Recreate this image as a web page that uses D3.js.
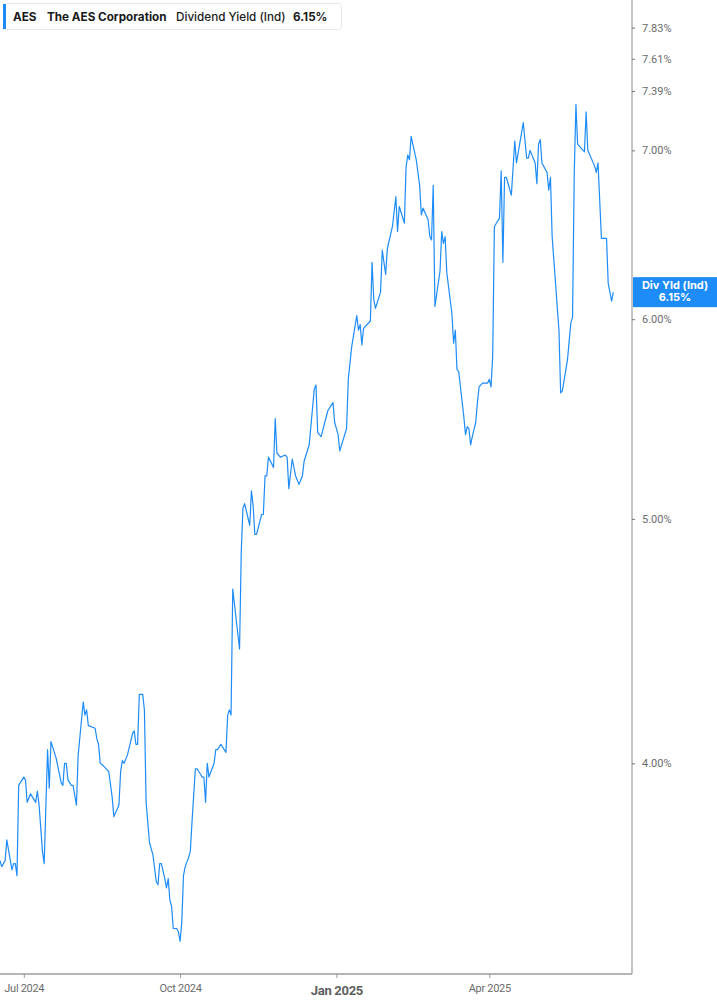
<!DOCTYPE html>
<html lang="en">
<head>
<meta charset="utf-8">
<title>AES Dividend Yield</title>
<script src="https://d3js.org/d3.v7.min.js"></script>
<style>
    *{
        margin: 0px;
        padding: 0px;
    }
    body{
        background-color: #ffffff;
        width: 717px;
        height: 1005px;
        overflow: hidden;
    }
</style>
</head>
<body>
<div class="chart"></div>
<script>
// dividend yield (%)
var dates = [
    "2024-06-17","2024-06-18","2024-06-20","2024-06-21","2024-06-24","2024-06-25","2024-06-26","2024-06-27","2024-06-28",
    "2024-07-01","2024-07-02","2024-07-03","2024-07-05","2024-07-08","2024-07-09","2024-07-10","2024-07-12","2024-07-13",
    "2024-07-15","2024-07-16","2024-07-17","2024-07-19","2024-07-20","2024-07-22","2024-07-23","2024-07-24","2024-07-25",
    "2024-07-26","2024-07-27","2024-07-29","2024-07-30","2024-08-01","2024-08-02","2024-08-05","2024-08-06","2024-08-07",
    "2024-08-08","2024-08-12","2024-08-13","2024-08-14","2024-08-15","2024-08-17","2024-08-20","2024-08-22","2024-08-23",
    "2024-08-26","2024-08-27","2024-08-28","2024-08-29","2024-08-31","2024-09-03","2024-09-04","2024-09-05","2024-09-06",
    "2024-09-07","2024-09-09","2024-09-10","2024-09-11","2024-09-13","2024-09-15","2024-09-17","2024-09-18","2024-09-19",
    "2024-09-20","2024-09-22","2024-09-23","2024-09-24","2024-09-25","2024-09-26","2024-09-27","2024-09-29","2024-09-30",
    "2024-10-01","2024-10-02","2024-10-03","2024-10-04","2024-10-06","2024-10-07","2024-10-08","2024-10-10","2024-10-11",
    "2024-10-13","2024-10-14","2024-10-15","2024-10-16","2024-10-17","2024-10-18","2024-10-21","2024-10-22","2024-10-23",
    "2024-10-25","2024-10-28","2024-10-29","2024-10-30","2024-10-31","2024-11-01","2024-11-05","2024-11-06","2024-11-07",
    "2024-11-08","2024-11-11","2024-11-12","2024-11-13","2024-11-14","2024-11-15","2024-11-18","2024-11-19","2024-11-20",
    "2024-11-21","2024-11-22","2024-11-25","2024-11-26","2024-11-27","2024-11-29","2024-12-02","2024-12-03","2024-12-04",
    "2024-12-06","2024-12-08","2024-12-10","2024-12-12","2024-12-13","2024-12-16","2024-12-19","2024-12-20","2024-12-21",
    "2024-12-23","2024-12-27","2024-12-30","2024-12-31","2025-01-02","2025-01-03","2025-01-07","2025-01-08","2025-01-10",
    "2025-01-13","2025-01-14","2025-01-15","2025-01-16","2025-01-17","2025-01-21","2025-01-22","2025-01-23","2025-01-24",
    "2025-01-27","2025-01-28","2025-01-30","2025-01-31","2025-02-03","2025-02-05","2025-02-06","2025-02-07","2025-02-10",
    "2025-02-11","2025-02-12","2025-02-13","2025-02-14","2025-02-17","2025-02-19","2025-02-20","2025-02-21","2025-02-24",
    "2025-02-25","2025-02-26","2025-02-27","2025-02-28","2025-03-03","2025-03-04","2025-03-05","2025-03-06","2025-03-07",
    "2025-03-10","2025-03-11","2025-03-12","2025-03-13","2025-03-14","2025-03-17","2025-03-18","2025-03-19","2025-03-20",
    "2025-03-21","2025-03-22","2025-03-24","2025-03-25","2025-03-26","2025-03-28","2025-03-31","2025-04-01","2025-04-02",
    "2025-04-03","2025-04-04","2025-04-07","2025-04-08","2025-04-09","2025-04-10","2025-04-11","2025-04-14","2025-04-16",
    "2025-04-17","2025-04-21","2025-04-23","2025-04-24","2025-04-25","2025-04-28","2025-04-29","2025-04-30","2025-05-01",
    "2025-05-02","2025-05-05","2025-05-06","2025-05-07","2025-05-08","2025-05-12","2025-05-13","2025-05-14","2025-05-17",
    "2025-05-19","2025-05-20","2025-05-21","2025-05-22","2025-05-23","2025-05-27","2025-05-28","2025-05-29","2025-06-02",
    "2025-06-03","2025-06-04","2025-06-06","2025-06-09","2025-06-10","2025-06-12","2025-06-13"
];
var yields = [
    3.66,3.64,3.66,3.73,3.63,3.65,3.65,3.61,3.92,
    3.95,3.94,3.86,3.89,3.86,3.90,3.85,3.69,3.65,
    4.05,3.91,4.08,4.04,4.02,3.96,3.93,3.92,4.00,
    4.00,3.94,3.92,3.92,3.85,4.03,4.23,4.18,4.20,
    4.14,4.13,4.09,4.07,4.00,3.99,3.97,3.88,3.81,
    3.85,3.97,4.01,4.00,4.03,4.11,4.12,4.07,4.07,
    4.26,4.26,4.20,3.86,3.72,3.68,3.59,3.58,3.65,
    3.65,3.60,3.57,3.60,3.53,3.51,3.44,3.44,3.43,
    3.40,3.46,3.61,3.64,3.67,3.69,3.79,3.98,3.98,
    3.96,3.95,3.95,3.86,4.00,3.95,4.00,4.05,4.05,
    4.07,4.04,4.18,4.20,4.18,4.69,4.44,4.85,5.05,
    5.07,4.97,5.13,5.06,4.93,4.93,5.02,5.02,5.20,
    5.20,5.29,5.24,5.48,5.31,5.29,5.30,5.29,5.14,
    5.28,5.20,5.16,5.20,5.27,5.35,5.63,5.65,5.41,
    5.39,5.52,5.56,5.46,5.40,5.32,5.43,5.68,5.85,
    6.02,5.94,5.97,5.86,5.95,5.99,6.32,6.11,6.06,
    6.15,6.39,6.25,6.40,6.53,6.71,6.50,6.65,6.55,
    6.89,6.97,6.94,7.09,6.94,6.78,6.60,6.64,6.57,
    6.47,6.45,6.78,6.07,6.27,6.50,6.43,6.47,6.26,
    6.03,5.87,5.94,5.73,5.72,5.49,5.40,5.44,5.43,
    5.35,5.39,5.46,5.56,5.64,5.66,5.66,5.68,5.64,
    5.80,6.53,6.58,6.87,6.32,6.83,6.83,6.72,7.06,
    6.92,7.18,6.95,6.95,7.00,6.92,6.79,7.04,7.07,
    6.92,6.86,6.75,6.83,6.47,5.94,5.61,5.62,5.78,
    5.98,6.01,6.85,7.30,7.04,6.99,7.25,7.00,6.90,
    6.86,6.92,6.46,6.46,6.20,6.10,6.15
];
var yTicks = [4.00, 5.00, 6.00, 7.00, 7.39, 7.61, 7.83];
var xTickDates = ["2024-07-01", "2024-10-01", "2025-01-01", "2025-04-01"];
var xTickLabels = ["Jul 2024", "Oct 2024", "Jan 2025", "Apr 2025"];
var ticker = "AES";
var company = "The AES Corporation";
var metric = "Dividend Yield (Ind)";
var lastValue = 6.15;

var width = 717;
var height = 1005;
var plotW = 632;
var plotH = 974;
var blue = "#1e8cf8";

var parse = d3.timeParse("%Y-%m-%d");
var points = dates.map(function(d, i){
    return {date: parse(d), value: yields[i]};
});

var svg = d3.select(".chart")
    .append("svg")
    .attr("width", width)
    .attr("height", height)
    .style("font-family", "Inter, Roboto, sans-serif");

var xScale = d3.scaleTime()
    .domain([parse("2024-06-17"), parse("2025-06-24")])
    .range([0, plotW]);

var yScale = d3.scaleLog()
    .domain([3.30, 8.03])
    .range([plotH, 0]);

svg.append("clipPath")
    .attr("id", "plotclip")
    .append("rect")
    .attr("x", 0).attr("y", 0)
    .attr("width", plotW).attr("height", plotH);

/*---------------- axes ----------------*/
var xAxis = d3.axisBottom(xScale)
    .tickValues(xTickDates.map(parse))
    .tickSize(4)
    .tickFormat(function(d, i){ return xTickLabels[i]; });

var gx = svg.append("g")
    .attr("transform", "translate(0," + plotH + ")")
    .call(xAxis);
gx.select(".domain")
    .attr("d", "M0,0H" + plotW)
    .attr("stroke", "#b5b5b5")
    .attr("stroke-width", 2);
gx.selectAll(".tick line").attr("stroke", "#999");
gx.selectAll(".tick text")
    .attr("y", 10)
    .attr("dy", "0.71em")
    .style("font-size", "11px")
    .style("font-family", "Roboto, sans-serif")
    .style("letter-spacing", "-0.3px")
    .attr("fill", "#6b6b6b");
// year start label is bigger and bold
gx.selectAll(".tick text")
    .filter(function(d, i){ return xTickLabels[i].indexOf("Jan") === 0; })
    .attr("y", 12)
    .style("font-size", "13px")
    .style("font-weight", "bold")
    .attr("fill", "#5e5e5e");

var yAxis = d3.axisRight(yScale)
    .tickValues(yTicks)
    .tickSize(3)
    .tickFormat(function(d){ return d.toFixed(2) + "%"; });

var gy = svg.append("g")
    .attr("transform", "translate(" + plotW + ",0)")
    .call(yAxis);
gy.select(".domain")
    .attr("d", "M0,0V" + plotH)
    .attr("stroke", "#9a9a9a")
    .attr("stroke-width", 1.2);
gy.selectAll(".tick line").attr("stroke", "#777");
gy.selectAll(".tick text")
    .attr("x", 10)
    .style("font-size", "11px")
    .style("font-family", "Roboto, sans-serif")
    .attr("fill", "#6b6b6b");

/*---------------- line ----------------*/
var line = d3.line()
    .x(function(d){ return xScale(d.date); })
    .y(function(d){ return yScale(d.value); });

svg.append("path")
    .datum(points)
    .attr("clip-path", "url(#plotclip)")
    .attr("fill", "none")
    .attr("stroke", blue)
    .attr("stroke-width", 1.2)
    .attr("stroke-linejoin", "round")
    .attr("d", line);

/*---------------- last value flag ----------------*/
var flag = svg.append("g")
    .attr("transform", "translate(" + (plotW + 1) + "," + yScale(lastValue) + ")");
flag.append("rect")
    .attr("x", 0).attr("y", -15)
    .attr("width", width - plotW - 1).attr("height", 30)
    .attr("fill", blue);
flag.append("text")
    .attr("x", (width - plotW - 1) / 2).attr("y", -3)
    .attr("text-anchor", "middle")
    .attr("fill", "#fff")
    .style("font-size", "11px")
    .style("font-weight", "bold")
    .text("Div Yld (Ind)");
flag.append("text")
    .attr("x", (width - plotW - 1) / 2).attr("y", 9)
    .attr("text-anchor", "middle")
    .attr("fill", "#fff")
    .style("font-size", "11px")
    .style("font-weight", "bold")
    .text(lastValue.toFixed(2) + "%");

/*---------------- legend ----------------*/
var legend = svg.append("g");
legend.append("rect")
    .attr("x", 3.5).attr("y", 3.5)
    .attr("width", 338).attr("height", 26)
    .attr("rx", 3)
    .attr("fill", "#fff")
    .attr("stroke", "#e6e6e6");
legend.append("rect")
    .attr("x", 3).attr("y", 4)
    .attr("width", 3).attr("height", 25)
    .attr("fill", blue);

var legendParts = [
    {t: ticker, x: 13, w: "bold"},
    {t: company, x: 47, w: "bold"},
    {t: metric, x: 176, w: "500"},
    {t: lastValue.toFixed(2) + "%", x: 293, w: "bold"}
];
legend.selectAll(".lg")
    .data(legendParts)
    .enter()
    .append("text")
    .attr("class", "lg")
    .attr("x", function(d){ return d.x; })
    .attr("y", 21)
    .attr("fill", "#1a1a1a")
    .style("font-size", "11.7px")
    .style("font-weight", function(d){ return d.w; })
    .text(function(d){ return d.t; });
</script>
</body>
</html>
